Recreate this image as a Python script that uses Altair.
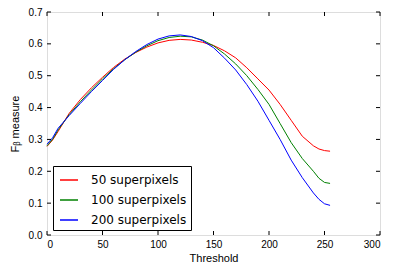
import altair as alt
import pandas as pd

thresholds = [0, 5, 10, 20, 30, 40, 50, 60, 70, 80, 90, 100, 110, 120, 130, 140,
              150, 160, 170, 180, 190, 200, 210, 220, 230, 240, 245, 250, 255]
sp200 = [0.285, 0.305, 0.335, 0.375, 0.413, 0.45, 0.485, 0.52, 0.55, 0.576, 0.598,
         0.615, 0.625, 0.628, 0.623, 0.61, 0.588, 0.555, 0.518, 0.472, 0.42, 0.36,
         0.30, 0.235, 0.18, 0.132, 0.112, 0.098, 0.093]
sp100 = [0.28, 0.30, 0.33, 0.378, 0.418, 0.455, 0.49, 0.522, 0.55, 0.574, 0.594,
         0.61, 0.62, 0.624, 0.622, 0.612, 0.594, 0.568, 0.537, 0.50, 0.457, 0.41,
         0.35, 0.29, 0.24, 0.2, 0.178, 0.165, 0.162]
sp50 = [0.278, 0.298, 0.325, 0.382, 0.425, 0.462, 0.495, 0.526, 0.552, 0.573, 0.59,
        0.603, 0.611, 0.614, 0.612, 0.605, 0.595, 0.578, 0.556, 0.525, 0.49, 0.455,
        0.41, 0.36, 0.31, 0.28, 0.27, 0.265, 0.263]
series_names = ["50 superpixels", "100 superpixels", "200 superpixels"]
series_colors = ["#ff0000", "#008000", "#0000ff"]
x_ticks = [0, 50, 100, 150, 200, 250, 300]
y_ticks = [0.0, 0.1, 0.2, 0.3, 0.4, 0.5, 0.6, 0.7]

rows = []
for name, vals in zip(series_names, [sp50, sp100, sp200]):
    for t, v in zip(thresholds, vals):
        rows.append({"t": t, "v": v, "s": name})
df = pd.DataFrame(rows)
xt = pd.DataFrame({"t": x_ticks})
yt = pd.DataFrame({"v": y_ticks})

W, H = 333, 223
FONT = "DejaVu Sans"
xscale = alt.Scale(domain=[0, 300], nice=False)
yscale = alt.Scale(domain=[0, 0.7], nice=False)
x_axis = alt.Axis(title="Threshold", values=x_ticks, format="d", grid=False,
                  domain=False, ticks=False, labelPadding=4,
                  labelOverlap=False, titlePadding=3, titleFontWeight="normal")
y_axis = alt.Axis(title="Fᵦ measure", values=y_ticks, format=".1f", grid=False,
                  domain=False, ticks=False, labelPadding=5,
                  labelOverlap=False, titlePadding=8, titleFontWeight="normal")

lines = alt.Chart(df).mark_line(strokeWidth=1).encode(
    x=alt.X("t:Q", scale=xscale, axis=x_axis),
    y=alt.Y("v:Q", scale=yscale, axis=y_axis),
    color=alt.Color("s:N", scale=alt.Scale(domain=series_names, range=series_colors),
                    sort=series_names,
                    legend=alt.Legend(title=None, orient="none", legendX=6, legendY=154,
                                      symbolSize=324, labelFontSize=12,
                                      labelOffset=12, padding=4, symbolOffset=2,
                                      rowPadding=4,
                                      strokeColor="black", fillColor="white",
                                      cornerRadius=0, labelFont=FONT)),
    order=alt.Order("t:Q"),
)

bt = alt.Chart(xt).mark_rule(stroke="black", strokeWidth=1).encode(
    x=alt.X("t:Q", scale=xscale, axis=x_axis), y=alt.value(H - 4), y2=alt.value(H))
tt = alt.Chart(xt).mark_rule(stroke="black", strokeWidth=1).encode(
    x=alt.X("t:Q", scale=xscale, axis=x_axis), y=alt.value(0), y2=alt.value(4))
lt = alt.Chart(yt).mark_rule(stroke="black", strokeWidth=1).encode(
    y=alt.Y("v:Q", scale=yscale, axis=y_axis), x=alt.value(0), x2=alt.value(4))
rt = alt.Chart(yt).mark_rule(stroke="black", strokeWidth=1).encode(
    y=alt.Y("v:Q", scale=yscale, axis=y_axis), x=alt.value(W - 4), x2=alt.value(W))

chart = alt.layer(lines, bt, tt, lt, rt).properties(
    width=W, height=H,
    autosize=alt.AutoSizeParams(type="none"),
    padding={"left": 39, "top": 4, "right": 10, "bottom": 40},
).configure_view(stroke="black", strokeWidth=1).configure_axis(
    labelFont=FONT, titleFont=FONT, labelFontSize=10, titleFontSize=10.5,
    titleFontWeight="normal", labelColor="black", titleColor="black",
).configure(background="white")

chart.save("out.html", embed_options={"renderer": "svg", "actions": False})
